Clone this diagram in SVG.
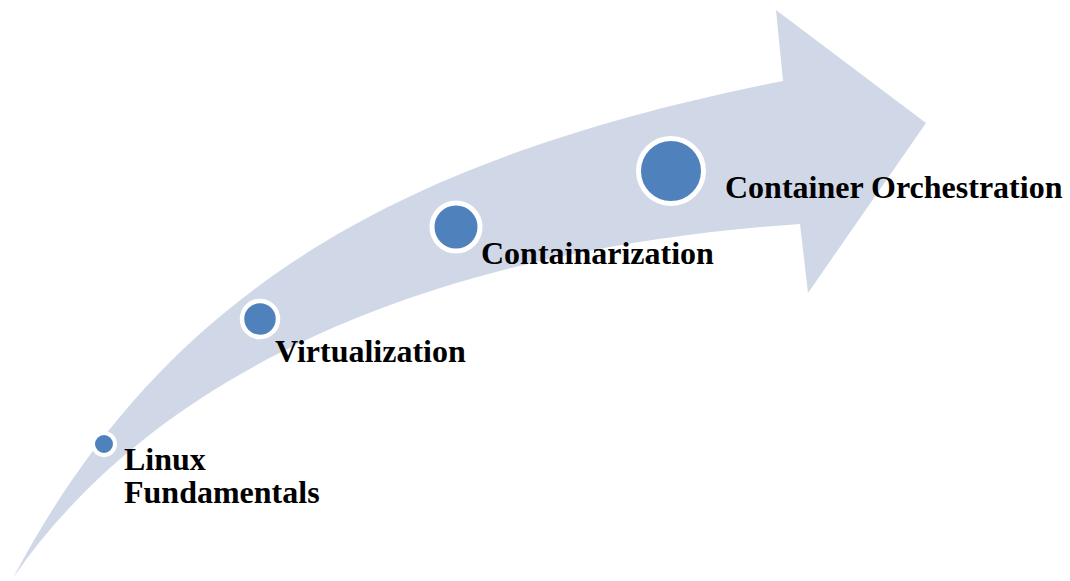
<svg xmlns="http://www.w3.org/2000/svg" width="1070" height="581" viewBox="0 0 1070 581">
<style>
.lbl{font-family:"Liberation Serif","Times New Roman",serif;font-weight:bold;font-size:32px;fill:#000}
.dot{fill:#4F81BD;stroke:#fff}
</style>
<rect width="1070" height="581" fill="#fff"/>
<g id="arrow">
<path d="M13,578 C160,300 385,160 783,81 L776,10 L926,123 L808,293 L800,224 C429,249 154,373 13,578 Z" fill="#D0D8E8"/>
</g>
<g id="connectors"></g>
<g id="node-linux">
<circle class="dot" cx="104" cy="444" r="11" stroke-width="4"/>
<text class="lbl" x="124" y="470">Linux</text>
<text class="lbl" x="124" y="503">Fundamentals</text>
</g>
<g id="node-virtualization">
<circle class="dot" cx="260" cy="319" r="18" stroke-width="4.5"/>
<text class="lbl" x="275" y="362">Virtualization</text>
</g>
<g id="node-containarization">
<circle class="dot" cx="456" cy="227" r="24" stroke-width="5"/>
<text class="lbl" x="481" y="264">Containarization</text>
</g>
<g id="node-orchestration">
<circle class="dot" cx="671" cy="171" r="32.5" stroke-width="5"/>
<text class="lbl" x="725" y="198">Container Orchestration</text>
</g>
</svg>
